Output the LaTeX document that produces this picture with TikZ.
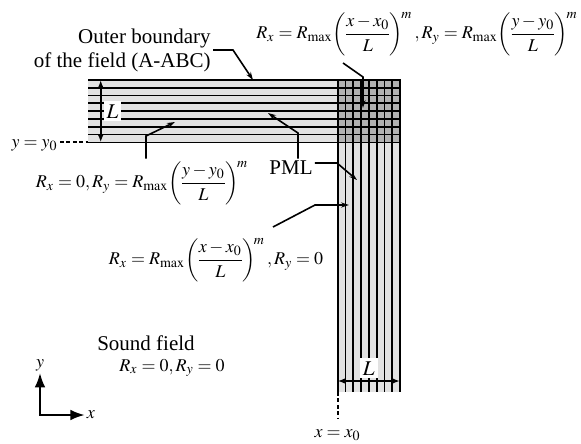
\documentclass[tikz,border=0pt]{standalone}
\usepackage{amsmath}
\usepackage{mathptmx}
\usepackage{fontspec}
\setmainfont{Liberation Serif}
\usetikzlibrary{arrows.meta,positioning,calc}
\usepackage{xcolor}
\definecolor{pmlLight}{HTML}{E2E2E2}
\definecolor{pmlDark}{HTML}{B2B2B2}
\thickmuskip=4mu plus 2mu\relax
\newcommand{\pmlgrade}[1]{R_{\max}\!\left(\!\dfrac{#1}{L}\!\right)^{\!m}}

\begin{document}
\begin{tikzpicture}[x=0.5pt,y=-0.5pt,>=Latex,
  lbl/.style={inner sep=1pt,font=\fontsize{10.5}{12}\selectfont},
  formula/.style={inner sep=1pt,font=\fontsize{9}{11}\selectfont},
  leader/.style={line width=0.8pt,-{Stealth[length=4pt,width=2.6pt]}},
  strip/.style={line width=0.9pt},
  boundary/.style={line width=1.4pt},
  dimarrow/.style={{Latex[length=4pt,width=3pt]}-{Latex[length=4pt,width=3pt]},line width=0.9pt},
  dimlbl/.style={lbl,fill=white,inner sep=1.5pt},
  guide/.style={line width=1pt,dash pattern=on 2pt off 1.2pt}]
\useasboundingbox (0,0) rectangle (581,443);
% PML strips
\fill[pmlLight] (88,80) rectangle (400,142.4);
\fill[pmlLight] (337.6,80) rectangle (400,392);
\fill[pmlDark] (337.6,80) rectangle (400,142.4);
\foreach \i in {1,...,8}
  \draw[strip] (88,80+\i*7.8) -- (400,80+\i*7.8);
\foreach \i in {0,...,7}
  \draw[strip] (337.6+\i*7.8,80) -- (337.6+\i*7.8,392);
\draw[boundary] (88,80) -- (400,80) -- (400,392);
\coordinate (y0) at (88,142.4);
\coordinate (x0) at (337.6,392);
% widths
\coordinate (hTop) at (100.7,80);
\coordinate (hBot) at (100.7,142.4);
\draw[dimarrow] (hTop) -- (hBot) node[midway,dimlbl,right=1pt] (Lh) {$L$};
\coordinate (vLeft) at (337.6,381);
\coordinate (vRight) at (400,381);
\draw[dimarrow] (vLeft) -- (vRight) node[midway,dimlbl,above=1pt] (Lv) {$L$};
% labels
\node[lbl,align=right,anchor=east] (outer) at (213,50) {Outer boundary\\of the field (A-ABC)};
\node[formula] (fxy) at (417,34) {$R_x=\pmlgrade{x-x_0}, R_y=\pmlgrade{y-y_0}$};
\node[formula] (fy) at (142,183) {$R_x=0, R_y=\pmlgrade{y-y_0}$};
\node[lbl] (pml) at (291,168) {PML};
\node[formula] (fx) at (216,260) {$R_x=\pmlgrade{x-x_0}, R_y=0$};
\node[lbl] (sound) at (146,343) {Sound field};
\node[formula] (rzero) at (172,368) {$R_x=0, R_y=0$};
\node[formula,anchor=east] (y0lbl) at (60,145) {$y=y_0$};
\node[formula] (x0lbl) at (337.6,435) {$x=x_0$};
\node[formula] (ylab) at (40,365) {$y$};
\node[formula] (xlab) at (91,415) {$x$};
% leaders
\coordinate (outerKnee) at (233,50);
\coordinate (outerTip) at (253,80);
\draw[leader] (outer.east) -- (outerKnee) -- (outerTip);
\coordinate (fxyFoot) at (343,63);
\coordinate (fxyKnee) at (363,77);
\coordinate (fxyTip) at (363,108);
\draw[leader] (fxyFoot) -- (fxyKnee) -- (fxyTip);
\coordinate (pmlKneeH) at (298,133);
\coordinate (pmlTipH) at (268,113);
\draw[leader] (pml.north -| pmlKneeH) -- (pmlKneeH) -- (pmlTipH);
\coordinate (pmlKneeV) at (337,163);
\coordinate (pmlTipV) at (357,180);
\draw[leader] (pml.east |- pmlKneeV) -- (pmlKneeV) -- (pmlTipV);
\coordinate (fyKnee) at (146,136);
\coordinate (fyTip) at (175,122);
\draw[leader] (fy.north -| fyKnee) -- (fyKnee) -- (fyTip);
\coordinate (fxFoot) at (273,227);
\coordinate (fxKnee) at (315,205);
\coordinate (fxTip) at (349,205);
\draw[leader] (fxFoot) -- (fxKnee) -- (fxTip);
% reference lines
\draw[guide] (y0lbl.east |- y0) -- (y0);
\coordinate (x0End) at (337.6,418);
\draw[guide] (x0) -- (x0End);
% axes
\draw[<->,line width=0.9pt] (ylab.south) |- (xlab.west);
\end{tikzpicture}
\end{document}
